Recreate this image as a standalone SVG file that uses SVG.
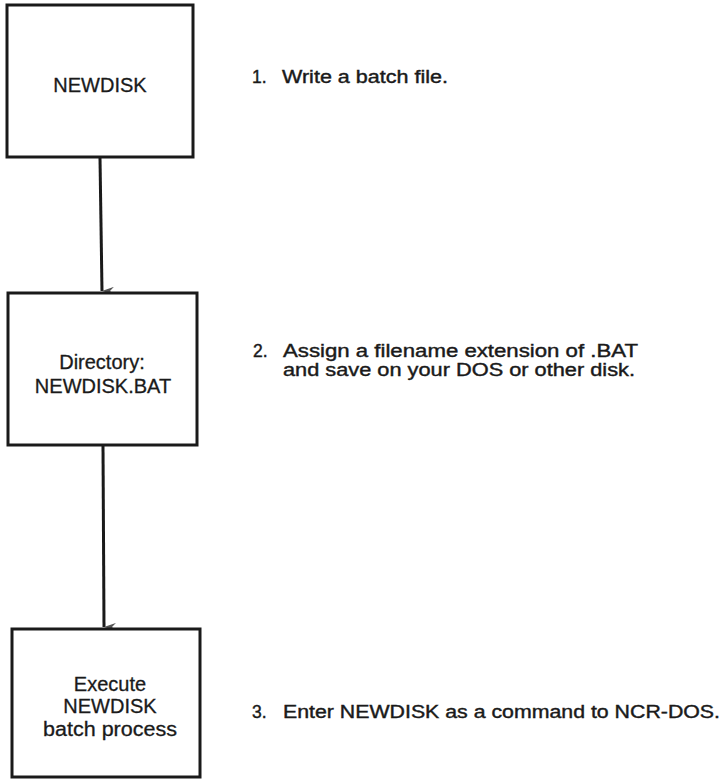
<svg xmlns="http://www.w3.org/2000/svg" width="727" height="781" viewBox="0 0 727 781">
<style>
.box{fill:#fff;stroke:#1a1a1a;stroke-width:3}
.lbl{font-family:"Liberation Sans",Arial,sans-serif;font-size:20px;fill:#1a1a1a;stroke:#1a1a1a;stroke-width:0.3;text-anchor:middle}
.step{font-family:"Liberation Sans",Arial,sans-serif;font-size:17.5px;fill:#1a1a1a;stroke:#1a1a1a;stroke-width:0.4}
.conn{stroke:#1a1a1a;stroke-width:3;fill:none}
</style>
<defs>
<marker id="arr" viewBox="0 0 8 12" refX="4" refY="12" markerWidth="8" markerHeight="12" markerUnits="userSpaceOnUse" orient="auto-start-reverse">
<path d="M0,0 L4,12 L8,0 L4,4 Z" fill="#555"/>
</marker>
</defs>
<rect width="727" height="781" fill="#fff"/>
<g id="connectors">
<path class="conn" d="M100,158 L102,291" marker-end="url(#arr)"/>
<path class="conn" d="M103,446 L104,627" marker-end="url(#arr)"/>
</g>
<g id="node1">
<rect class="box" x="7" y="5" width="186" height="152"/>
<text class="lbl" x="100" y="92">NEWDISK</text>
</g>
<g id="node2">
<rect class="box" x="8" y="293" width="189" height="152"/>
<text class="lbl" x="102" y="369">Directory:</text>
<text class="lbl" x="103" y="393">NEWDISK.BAT</text>
</g>
<g id="node3">
<rect class="box" x="12" y="629" width="188" height="148"/>
<text class="lbl" x="110" y="691">Execute</text>
<text class="lbl" x="110" y="713">NEWDISK</text>
<text class="lbl" x="110" y="736" textLength="134" lengthAdjust="spacingAndGlyphs">batch process</text>
</g>
<g id="steps">
<text class="step" x="252" y="83">1.</text>
<text class="step" x="282" y="83" textLength="166" lengthAdjust="spacingAndGlyphs">Write a batch file.</text>
<text class="step" x="253" y="357">2.</text>
<text class="step" x="283" y="357" textLength="355" lengthAdjust="spacingAndGlyphs">Assign a filename extension of .BAT</text>
<text class="step" x="283" y="376" textLength="352" lengthAdjust="spacingAndGlyphs">and save on your DOS or other disk.</text>
<text class="step" x="252" y="718">3.</text>
<text class="step" x="283" y="718" textLength="437" lengthAdjust="spacingAndGlyphs">Enter NEWDISK as a command to NCR-DOS.</text>
</g>
</svg>
